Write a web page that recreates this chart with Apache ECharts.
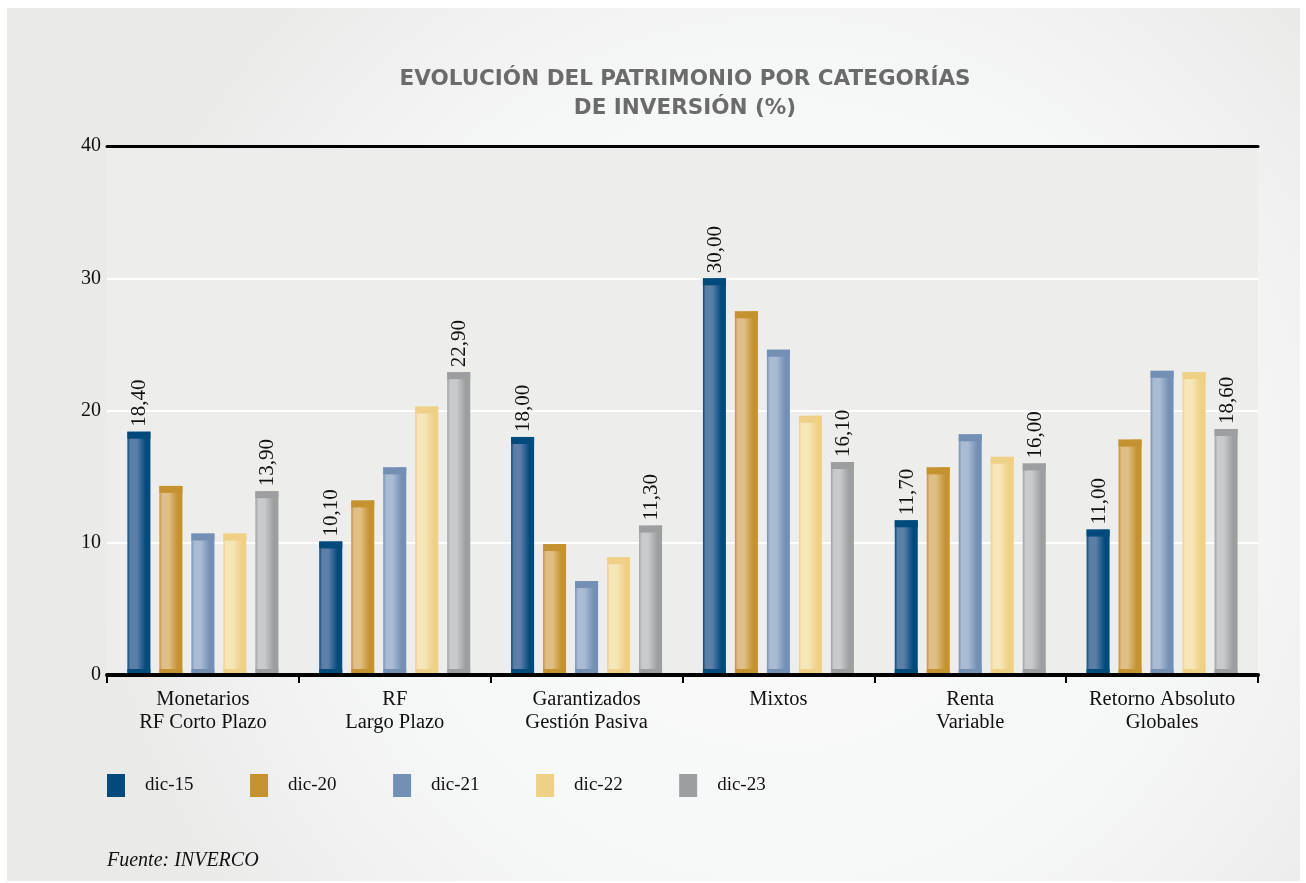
<!DOCTYPE html>
<html>
<head>
<meta charset="utf-8">
<script src="https://cdn.jsdelivr.net/npm/echarts@6/dist/echarts.min.js"></script>
<style>
html,body{margin:0;padding:0;background:#ffffff;}
#chart{width:1306px;height:883px;}
</style>
</head>
<body>
<div id="chart"></div>
<script>
// ---- data ----
var categories = ['Monetarios\nRF Corto Plazo', 'RF\nLargo Plazo', 'Garantizados\nGestión Pasiva', 'Mixtos', 'Renta\nVariable', 'Retorno Absoluto\nGlobales'];
var seriesNames = ['dic-15', 'dic-20', 'dic-21', 'dic-22', 'dic-23'];
var dic15 = [18.4, 10.1, 18.0, 30.0, 11.7, 11.0];
var dic20 = [14.3, 13.2, 9.9, 27.5, 15.7, 17.8];
var dic21 = [10.7, 15.7, 7.1, 24.6, 18.2, 23.0];
var dic22 = [10.7, 20.3, 8.9, 19.6, 16.5, 22.9];
var dic23 = [13.9, 22.9, 11.3, 16.1, 16.0, 18.6];
var yTicks = [0, 10, 20, 30, 40];
var labeledSeries = ['dic-15', 'dic-23'];

// ---- styles ----
var baseColors = ['#004a7c', '#c4922e', '#7390b4', '#eed186', '#9d9e9f'];
var lightColors = ['#5b7fa7', '#e0bf86', '#aabbd4', '#f7e6b8', '#c9cacb'];
var BAR_W = 23, PITCH = 32, CAP = 7, FOOT = 6;

var allData = [dic15, dic20, dic21, dic22, dic23];

function fmt(v) { return v.toFixed(2).replace('.', ','); }

function makeRender(si) {
  return function (params, api) {
    var cat = api.value(0), v = api.value(1);
    var base = api.coord([cat, 0]);
    var top = api.coord([cat, v]);
    var cx = base[0] + (si - 2) * PITCH;
    var x = cx - BAR_W / 2;
    var h = base[1] - top[1];
    var grad = new echarts.graphic.LinearGradient(0, 0, 1, 0, [
      { offset: 0, color: baseColors[si] },
      { offset: 0.12, color: lightColors[si] },
      { offset: 0.4, color: lightColors[si] },
      { offset: 0.8, color: baseColors[si] },
      { offset: 1, color: baseColors[si] }
    ]);
    var children = [
      { type: 'rect', shape: { x: x, y: top[1], width: BAR_W, height: h }, style: { fill: grad } },
      { type: 'rect', shape: { x: x, y: top[1], width: BAR_W, height: Math.min(CAP, h) }, style: { fill: baseColors[si] } },
      { type: 'rect', shape: { x: x, y: base[1] - FOOT, width: BAR_W, height: FOOT }, style: { fill: baseColors[si] } }
    ];
    if (labeledSeries.indexOf(seriesNames[si]) >= 0) {
      children.push({
        type: 'text',
        x: cx + 1, y: top[1] - 5,
        rotation: Math.PI / 2,
        style: {
          text: fmt(v),
          fontFamily: 'Liberation Serif', fontSize: 21, fill: '#111',
          align: 'left', verticalAlign: 'middle'
        }
      });
    }
    return { type: 'group', children: children };
  };
}

var series = seriesNames.map(function (name, si) {
  return {
    name: name,
    type: 'custom',
    renderItem: makeRender(si),
    itemStyle: { color: baseColors[si] },
    encode: { x: 0, y: 1 },
    data: allData[si].map(function (v, i) { return [i, v]; }),
    z: 2
  };
});

var chart = echarts.init(document.getElementById('chart'), null, { renderer: 'canvas' });
chart.setOption({
  backgroundColor: '#ffffff',
  animation: false,
  graphic: [
    {
      type: 'rect', z: -10, silent: true,
      shape: { x: 7, y: 8, width: 1293, height: 873 },
      style: {
        fill: new echarts.graphic.RadialGradient(0.6, 0.55, 0.8, [
          { offset: 0, color: '#fbfbfc' },
          { offset: 0.6, color: '#f6f7f7' },
          { offset: 1, color: '#eaebe9' }
        ])
      }
    },
    {
      type: 'text', left: 107, top: 851,
      style: { text: 'Fuente: INVERCO', fontFamily: 'Liberation Serif', fontStyle: 'italic', fontSize: 20, fill: '#111' }
    }
  ],
  title: {
    text: 'EVOLUCIÓN DEL PATRIMONIO POR CATEGORÍAS\nDE INVERSIÓN (%)',
    left: 680, top: 60, textAlign: 'center',
    textStyle: { fontFamily: 'DejaVu Sans', fontWeight: 'bold', fontSize: 21.5, lineHeight: 29, color: '#6b6b6b' }
  },
  legend: {
    left: 102, top: 769,
    icon: 'rect', itemWidth: 18, itemHeight: 23, itemGap: 56.5,
    data: seriesNames,
    textStyle: { fontFamily: 'Liberation Serif', fontSize: 19, color: '#111', padding: [8, 0, 0, 15] }
  },
  grid: { left: 107, right: 48, top: 146, bottom: 208, show: true, backgroundColor: '#edeeec', borderWidth: 0 },
  xAxis: [
    {
      type: 'category', data: categories, position: 'bottom',
      axisLine: { lineStyle: { color: '#000', width: 4 } },
      axisTick: { show: true, length: 8, lineStyle: { color: '#000', width: 2 } },
      axisLabel: { fontFamily: 'Liberation Serif', fontSize: 20.5, color: '#111', lineHeight: 23, margin: 13 },
      z: 5
    },
    {
      type: 'category', data: categories, position: 'top',
      axisLine: { lineStyle: { color: '#000', width: 3 } },
      axisTick: { show: false }, axisLabel: { show: false }, z: 5
    }
  ],
  yAxis: {
    type: 'value', min: yTicks[0], max: yTicks[yTicks.length - 1], interval: 10,
    axisLine: { show: false }, axisTick: { show: false },
    axisLabel: { fontFamily: 'Liberation Serif', fontSize: 20, color: '#111', margin: 6 },
    splitLine: { lineStyle: { color: '#ffffff', width: 2 } }
  },
  series: series
});
</script>
</body>
</html>
